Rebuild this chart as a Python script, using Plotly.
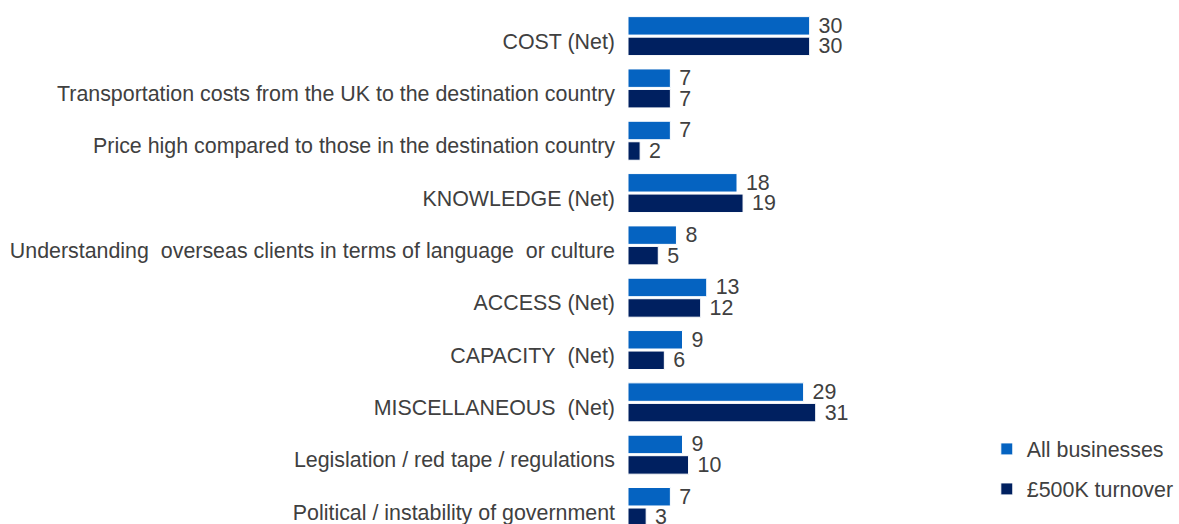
import plotly.graph_objects as go

# Barrier categories, top to bottom
categories = [
    "COST (Net)",
    "Transportation costs from the UK to the destination country",
    "Price high compared to those in the destination country",
    "KNOWLEDGE (Net)",
    "Understanding\u00a0 overseas clients in terms of language\u00a0 or culture",
    "ACCESS (Net)",
    "CAPACITY\u00a0 (Net)",
    "MISCELLANEOUS\u00a0 (Net)",
    "Legislation / red tape / regulations",
    "Political / instability of government",
]

all_businesses = [30, 7, 7, 18, 8, 13, 9, 29, 9, 7]
turnover_500k = [30, 7, 2, 19, 5, 12, 6, 31, 10, 3]

series_names = ["All businesses", "\u00a3500K turnover"]

LIGHT = "#0563C1"
DARK = "#002060"
TEXT = "#404040"
FONT = "Liberation Sans, Arial, sans-serif"
FS = 21.4

fig = go.Figure()
for name, vals, col, leg in [
    (series_names[0], all_businesses, LIGHT, "legend"),
    (series_names[1], turnover_500k, DARK, "legend2"),
]:
    fig.add_trace(go.Bar(
        y=categories, x=vals, orientation="h", name=name,
        marker=dict(color=col, line=dict(color="#FFFFFF", width=1)),
        texttemplate="\u00a0%{x}", textposition="outside",
        textfont=dict(color=TEXT, size=FS, family=FONT),
        constraintext="none", cliponaxis=False,
        legend=leg,
    ))

legend_common = dict(
    font=dict(color=TEXT, size=FS, family=FONT),
    bgcolor="rgba(0,0,0,0)", xanchor="left", yanchor="middle",
    itemclick=False,
)

fig.update_layout(
    width=1179, height=524,
    margin=dict(l=628, r=5, t=0, b=0),
    paper_bgcolor="white", plot_bgcolor="white",
    barmode="group", bargap=0.216, bargroupgap=0.1,
    font=dict(family=FONT, size=FS, color=TEXT),
    showlegend=True,
    legend=dict(x=0.662, y=1 - 449 / 524, **legend_common),
    legend2=dict(x=0.662, y=1 - 489 / 524, **legend_common),
    xaxis=dict(range=[0, 546 / 6.1], visible=False, fixedrange=True),
    yaxis=dict(
        type="category", range=[9.325, -0.69],
        showgrid=False, zeroline=False, showline=False, ticks="",
        ticklabelstandoff=12, ticklabelshift=-5,
        tickfont=dict(color=TEXT, size=FS, family=FONT),
        fixedrange=True,
    ),
)

fig.write_html("out.html")
